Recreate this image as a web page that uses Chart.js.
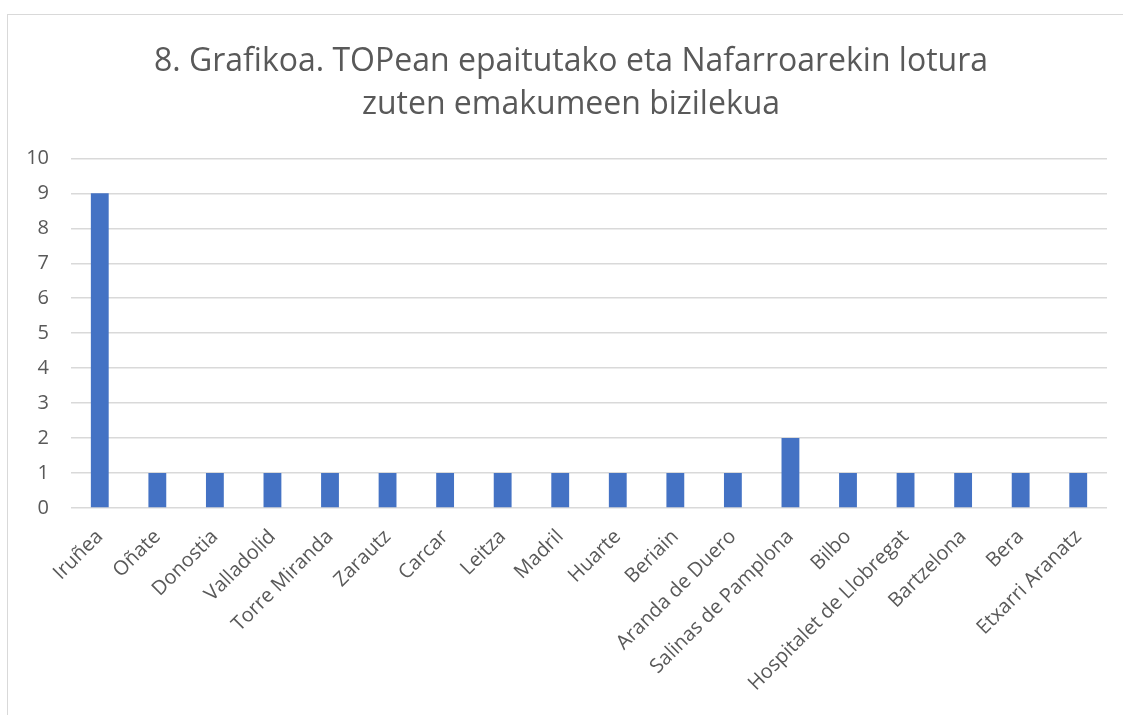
<!DOCTYPE html>
<html>
<head>
<meta charset="utf-8">
<script src="https://cdn.jsdelivr.net/npm/chart.js@4"></script>
<style>
  html, body { margin: 0; padding: 0; background: #fff; overflow: hidden; }
  #frame { position: absolute; left: 7px; top: 14px; width: 1200px; height: 800px; border-left: 1px solid #d9d9d9; border-top: 1px solid #d9d9d9; }
  #wrap { position: absolute; left: 0; top: 0; width: 1123px; height: 715px; }
</style>
</head>
<body>
<div id="frame"></div>
<div id="wrap"><canvas id="chart" width="1123" height="715"></canvas></div>
<script>
// residence of the women (counts per town)
const towns = ['Iruñea', 'Oñate', 'Donostia', 'Valladolid', 'Torre Miranda', 'Zarautz', 'Carcar', 'Leitza', 'Madril', 'Huarte', 'Beriain', 'Aranda de Duero', 'Salinas de Pamplona', 'Bilbo', 'Hospitalet de Llobregat', 'Bartzelona', 'Bera', 'Etxarri Aranatz'];
const counts = [9, 1, 1, 1, 1, 1, 1, 1, 1, 1, 1, 1, 2, 1, 1, 1, 1, 1];
const titleLines = ['8. Grafikoa. TOPean epaitutako eta Nafarroarekin lotura', 'zuten emakumeen bizilekua'];

const textColor = '#595959';
const gridColor = '#d9d9d9';
const fontFamily = '"Open Sans", sans-serif';

// the title in the original is centred on the whole chart box, not the canvas
const shiftTitle = {
  id: 'shiftTitle',
  afterLayout(chart) {
    if (chart.titleBlock) {
      chart.titleBlock.left = 35;
      chart.titleBlock.right = chart.chartArea.right;
    }
  },
};

const ctx = document.getElementById('chart').getContext('2d');
new Chart(ctx, {
  type: 'bar',
  data: {
    labels: towns,
    datasets: [{
      data: counts,
      backgroundColor: '#4472c4',
      borderWidth: 0,
      categoryPercentage: 1,
      barPercentage: 0.31,
    }],
  },
  options: {
    responsive: false,
    animation: false,
    layout: { padding: { left: 0, right: 16, top: 0, bottom: 0 } },
    plugins: {
      legend: { display: false },
      tooltip: { enabled: false },
      title: {
        display: true,
        text: titleLines,
        color: textColor,
        font: { family: fontFamily, size: 32, weight: 'normal', lineHeight: 1.35 },
        padding: { top: 40, bottom: 32 },
      },
    },
    scales: {
      x: {
        grid: { display: false },
        border: { display: false },
        ticks: {
          color: textColor,
          font: { family: fontFamily, size: 20 },
          maxRotation: 45,
          minRotation: 45,
          autoSkip: false,
          padding: 9,
        },
        afterFit: (scale) => { scale.height = 207; },
      },
      y: {
        min: 0,
        max: 10,
        grid: { color: gridColor, lineWidth: 1.5, drawTicks: false },
        border: { display: false },
        ticks: {
          stepSize: 1,
          color: textColor,
          font: { family: fontFamily, size: 20 },
          padding: 22,
        },
        afterFit: (scale) => { scale.width = 71; },
      },
    },
  },
  plugins: [shiftTitle],
});
</script>
</body>
</html>
